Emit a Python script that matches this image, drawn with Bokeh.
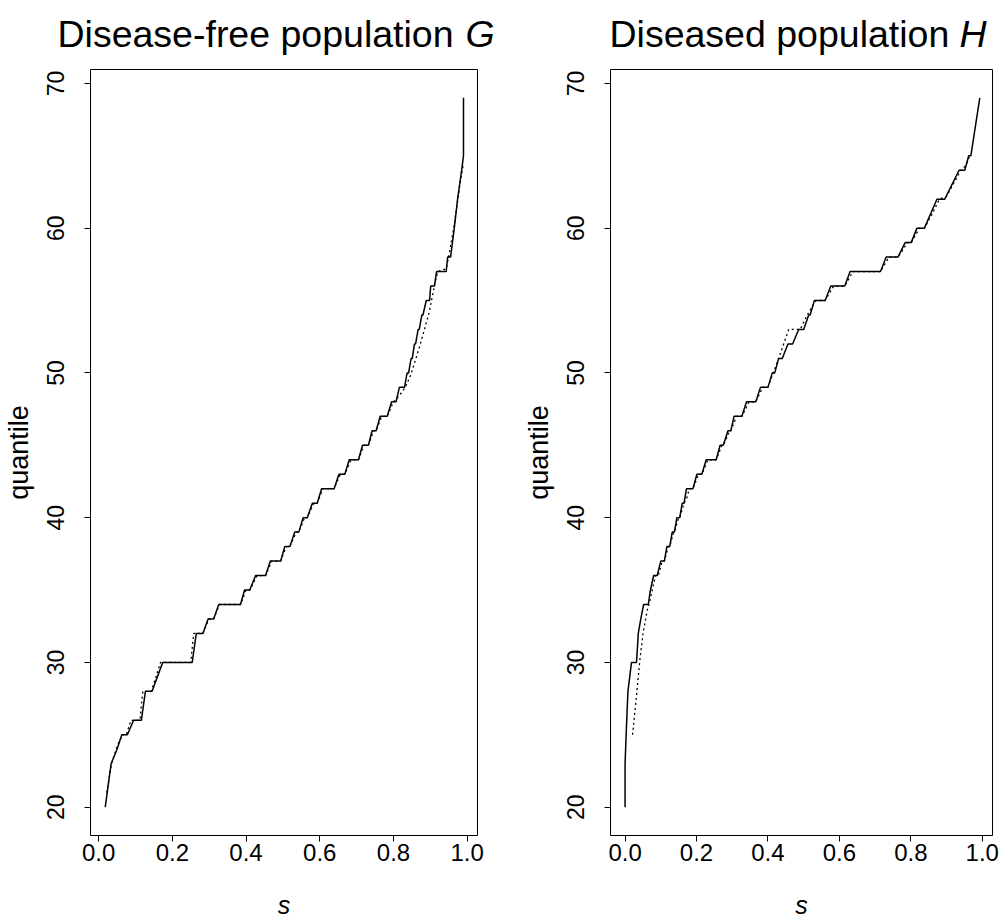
from bokeh.plotting import figure
from bokeh.layouts import row, column
from bokeh.models import Range1d, FixedTicker
from bokeh.core.properties import value
from bokeh.embed import file_html
from bokeh.resources import INLINE

# ---------------- data ----------------
x_ticks = [0.0, 0.2, 0.4, 0.6, 0.8, 1.0]
x_tick_labels = ["0.0", "0.2", "0.4", "0.6", "0.8", "1.0"]
y_ticks = [20, 30, 40, 50, 60, 70]
y_tick_labels = ["20", "30", "40", "50", "60", "70"]

titles = ["Disease-free population", "Diseased population"]
title_vars = ["G", "H"]

# Disease-free population G: empirical quantile function (solid)
g_emp_s = [0.018, 0.034, 0.05, 0.063, 0.078, 0.095, 0.116, 0.127, 0.145, 0.174,
           0.254, 0.265, 0.283, 0.297, 0.312, 0.326, 0.385, 0.396, 0.41, 0.426,
           0.453, 0.466, 0.494, 0.505, 0.519, 0.532, 0.543, 0.555, 0.566, 0.58,
           0.593, 0.605, 0.639, 0.652, 0.668, 0.68, 0.705, 0.716, 0.732, 0.742,
           0.753, 0.764, 0.783, 0.795, 0.807, 0.816, 0.830, 0.837, 0.841, 0.848,
           0.851, 0.857, 0.860, 0.867, 0.870, 0.877, 0.880, 0.889, 0.898, 0.901,
           0.911, 0.917, 0.943, 0.947, 0.955, 0.965, 0.974, 0.985, 0.990, 0.990]
g_emp_q = [20, 23, 24, 25, 25, 26, 26, 28, 28, 30,
           30, 32, 32, 33, 33, 34, 34, 35, 35, 36,
           36, 37, 37, 38, 38, 39, 39, 40, 40, 41,
           41, 42, 42, 43, 43, 44, 44, 45, 45, 46,
           46, 47, 47, 48, 48, 49, 49, 50, 50, 51,
           51, 52, 52, 53, 53, 54, 54, 55, 55, 56,
           56, 57, 57, 58, 58, 60, 62, 64, 65, 69]

# Disease-free population G: smoothed quantile estimate (dotted)
g_sm_s = [0.022, 0.035, 0.05, 0.065, 0.075, 0.088, 0.112, 0.12, 0.143, 0.168,
          0.25, 0.258, 0.283, 0.299, 0.312, 0.328, 0.385, 0.40, 0.41, 0.43,
          0.453, 0.47, 0.494, 0.509, 0.519, 0.536, 0.543, 0.559, 0.566, 0.584,
          0.593, 0.609, 0.639, 0.656, 0.668, 0.685, 0.705, 0.72, 0.732, 0.746,
          0.753, 0.768, 0.783, 0.80, 0.815, 0.832, 0.846, 0.861, 0.873, 0.884,
          0.897, 0.904, 0.911, 0.92, 0.943, 0.952, 0.962, 0.972, 0.98, 0.99]
g_sm_q = [21, 23, 24.2, 25, 25, 26, 26, 28, 28, 30,
          30, 32, 32, 33, 33, 34, 34, 35, 35, 36,
          36, 37, 37, 38, 38, 39, 39, 40, 40, 41,
          41, 42, 42, 43, 43, 44, 44, 45, 45, 46,
          46, 47, 47, 48, 48.4, 49, 49.8, 51, 52, 53,
          54.2, 55.1, 56, 57, 57.2, 58.3, 59.8, 61.5, 63, 64.5]

# Diseased population H: empirical quantile function (solid)
h_emp_s = [0.0, 0.0, 0.003, 0.008, 0.018, 0.032, 0.037, 0.044, 0.052, 0.065,
           0.071, 0.08, 0.09, 0.1, 0.11, 0.117, 0.125, 0.132, 0.138, 0.145,
           0.153, 0.16, 0.165, 0.172, 0.19, 0.201, 0.215, 0.227, 0.255, 0.266,
           0.275, 0.288, 0.296, 0.305, 0.327, 0.34, 0.366, 0.379, 0.40, 0.412,
           0.419, 0.43, 0.44, 0.456, 0.469, 0.486, 0.50, 0.514, 0.518, 0.53,
           0.56, 0.576, 0.615, 0.63, 0.715, 0.731, 0.764, 0.784, 0.801, 0.817,
           0.838, 0.873, 0.895, 0.935, 0.951, 0.962, 0.968, 0.993]
h_emp_q = [20, 23, 25, 28, 30, 30, 32, 33, 34, 34,
           35, 36, 36, 37, 37, 38, 38, 39, 39, 40,
           40, 41, 41, 42, 42, 43, 43, 44, 44, 45,
           45, 46, 46, 47, 47, 48, 48, 49, 49, 50,
           50, 51, 51, 52, 52, 53, 53, 54, 54, 55,
           55, 56, 56, 57, 57, 58, 58, 59, 59, 60,
           60, 62, 62, 64, 64, 65, 65, 69]

# Diseased population H: smoothed quantile estimate (dotted)
h_sm_s = [0.021, 0.032, 0.042, 0.051, 0.062, 0.07, 0.076, 0.085, 0.093, 0.104,
          0.11, 0.121, 0.125, 0.136, 0.138, 0.15, 0.153, 0.165, 0.172, 0.18,
          0.19, 0.206, 0.215, 0.232, 0.255, 0.271, 0.275, 0.293, 0.296, 0.312,
          0.327, 0.347, 0.366, 0.385, 0.40, 0.415, 0.437, 0.458, 0.49, 0.51,
          0.534, 0.56, 0.584, 0.615, 0.638, 0.715, 0.739, 0.764, 0.791, 0.801,
          0.824, 0.838, 0.86, 0.88, 0.90, 0.94, 0.953, 0.965]
h_sm_q = [25, 27.7, 30.3, 32.1, 33.6, 34.3, 35, 36, 36, 37,
          37, 38, 38, 39, 39, 40, 40, 41, 41.3, 42,
          42, 43, 43, 44, 44, 45, 45, 46, 46, 47,
          47, 48, 48, 49, 49, 50, 51.5, 53, 53, 54,
          55, 55, 56, 56, 57, 57, 58, 58, 59, 59,
          60, 60, 61, 62, 62.2, 64, 64.3, 65]

# ---------------- styling / layout ----------------
FONT = "Liberation Sans"
Y_LO, Y_HI = 18.04, 70.96
TITLE_H = 57          # height of the title strip
TOP = 12              # gap between title strip and plot frame
FRAME_H = 767
BOTTOM = 85
PANEL_H = TOP + FRAME_H + BOTTOM
TOTAL_W = 1001


def make_panel(emp_s, emp_q, sm_s, sm_q, x_lo, x_hi, width, b_left, b_right):
    p = figure(width=width, height=PANEL_H, output_backend="svg",
               toolbar_location=None, tools="",
               x_range=Range1d(x_lo, x_hi), y_range=Range1d(Y_LO, Y_HI),
               min_border_left=b_left, min_border_right=b_right,
               min_border_top=TOP, min_border_bottom=BOTTOM)
    p.background_fill_color = "white"
    p.border_fill_color = "white"
    p.outline_line_color = "black"
    p.outline_line_width = 1
    p.xgrid.visible = False
    p.ygrid.visible = False

    p.line(sm_s, sm_q, line_color="black", line_width=1.3, line_dash="2 3")
    p.line(emp_s, emp_q, line_color="black", line_width=1.5)

    p.xaxis.ticker = FixedTicker(ticks=x_ticks)
    p.xaxis.major_label_overrides = dict(zip(x_ticks, x_tick_labels))
    p.yaxis.ticker = FixedTicker(ticks=y_ticks)
    p.yaxis.major_label_overrides = dict(zip(y_ticks, y_tick_labels))

    for ax in (p.xaxis[0], p.yaxis[0]):
        ax.axis_line_color = None
        ax.major_tick_out = 6
        ax.major_tick_in = 0
        ax.minor_tick_out = 0
        ax.minor_tick_in = 0
        ax.major_tick_line_color = "black"
        ax.major_label_text_font = FONT
        ax.major_label_text_color = "black"
        ax.axis_label_text_font = FONT
        ax.axis_label_text_color = "black"

    p.yaxis.major_label_text_font_size = "23px"
    p.yaxis.major_label_orientation = "vertical"
    p.yaxis.major_label_standoff = 20
    p.yaxis.axis_label = "quantile"
    p.yaxis.axis_label_text_font_size = "27px"
    p.yaxis.axis_label_text_font_style = "normal"
    p.yaxis.axis_label_standoff = 11

    p.xaxis.major_label_text_font_size = "24px"
    p.xaxis.major_label_standoff = 2
    p.xaxis.axis_label = "s"
    p.xaxis.axis_label_text_font_size = "25px"
    p.xaxis.axis_label_text_font_style = "italic"
    p.xaxis.axis_label_standoff = 27
    return p


# panel geometry (pixels)
L_BORDER, L_FRAME_W, L_WIDTH = 90, 387, 520
R_BORDER, R_FRAME_W = 87, 385
R_WIDTH = TOTAL_W - L_WIDTH

p1 = make_panel(g_emp_s, g_emp_q, g_sm_s, g_sm_q, -0.022, 1.028,
                L_WIDTH, L_BORDER, L_WIDTH - L_BORDER - L_FRAME_W)
p2 = make_panel(h_emp_s, h_emp_q, h_sm_s, h_sm_q, -0.0408, 1.0286,
                R_WIDTH, R_BORDER, R_WIDTH - R_BORDER - R_FRAME_W)

# ---------------- title strip ----------------
TITLE_SIZE = 37.5
tf = figure(width=TOTAL_W, height=TITLE_H, output_backend="svg",
            toolbar_location=None, tools="",
            x_range=Range1d(0, TOTAL_W), y_range=Range1d(0, TITLE_H),
            x_axis_location=None, y_axis_location=None, min_border=0)
tf.outline_line_color = None
tf.background_fill_color = "white"
tf.border_fill_color = "white"
tf.grid.visible = False

baseline = TITLE_H - 33
# regular part starts, italic variable letter starts (pixels from left)
title_start = [57, 609]
var_start = [465, 959]
tf.text(x=title_start, y=[baseline, baseline], text=titles,
        text_font=value(FONT), text_font_size=f"{TITLE_SIZE}px",
        text_color="black", text_align="left", text_baseline="alphabetic")
tf.text(x=var_start, y=[baseline, baseline], text=title_vars,
        text_font=value(FONT), text_font_size=f"{TITLE_SIZE}px",
        text_font_style="italic",
        text_color="black", text_align="left", text_baseline="alphabetic")

layout = column(tf, row(p1, p2))
open("out.html", "w").write(file_html(layout, INLINE))
